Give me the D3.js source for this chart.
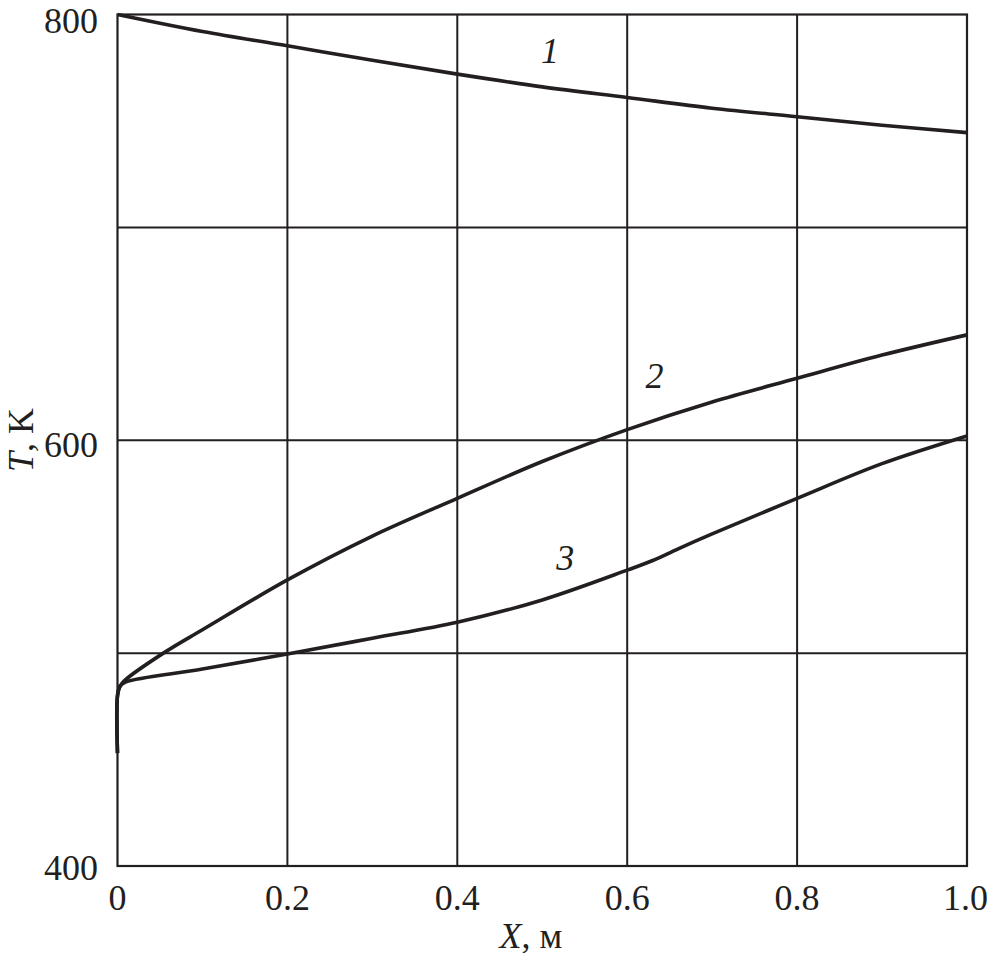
<!DOCTYPE html>
<html><head><meta charset="utf-8">
<script src="https://cdn.jsdelivr.net/npm/d3@7"></script>
<style>body{margin:0;background:#fff}</style>
</head><body>
<svg id="c" width="989" height="960"></svg>
<script>
const xTicks = [0, 0.2, 0.4, 0.6, 0.8, 1.0];
const xTickLabels = ["0", "0.2", "0.4", "0.6", "0.8", "1.0"];
const yTicks = [400, 600, 800];
const yGrid = [500, 600, 700];
const xGrid = [0.2, 0.4, 0.6, 0.8];

const curve1 = [[0,800],[0.1,792],[0.2,785.3],[0.3,778.5],[0.4,772],[0.5,766],[0.6,761],[0.7,756],[0.8,752],[0.9,748],[1.0,744.5]];
const curve2 = [[0,453],[0,480],[0.003,484.5],[0.008,487],[0.054,500],[0.1,511],[0.2,534.4],[0.3,555],[0.4,572.7],[0.5,590],[0.6,605],[0.7,618],[0.8,629.1],[0.9,640],[1.0,649.5]];
const curve3 = [[0,453],[0,480],[0.003,484.5],[0.01,486.5],[0.1,492.5],[0.2,499.6],[0.3,507],[0.4,514.5],[0.5,525],[0.6,539],[0.63,543.5],[0.66,549],[0.7,556],[0.8,572.7],[0.9,589],[1.0,602]];
const labels = [{t:"1",x:0.509,y:777}, {t:"2",x:0.632,y:624.6}, {t:"3",x:0.527,y:539}];

const svg = d3.select("#c");
const W = 989;
const L = 117.5, R = 967, T = 14.5, B = 866;
const x = d3.scaleLinear().domain([0,1]).range([L,R]);
const y = d3.scaleLinear().domain([400,800]).range([B,T]);
const ink = "#231f20";
const font = "'Liberation Serif','DejaVu Serif',serif";
const fs = 36;

svg.append("g").selectAll("line").data(xGrid).join("line")
  .attr("x1",d=>x(d)).attr("x2",d=>x(d)).attr("y1",T).attr("y2",B)
  .attr("stroke",ink).attr("stroke-width",2);
svg.append("g").selectAll("line").data(yGrid).join("line")
  .attr("y1",d=>y(d)).attr("y2",d=>y(d)).attr("x1",L).attr("x2",R)
  .attr("stroke",ink).attr("stroke-width",2);
svg.append("rect").attr("x",L).attr("y",T).attr("width",R-L).attr("height",B-T)
  .attr("fill","none").attr("stroke",ink).attr("stroke-width",2.2);

const line = d3.line().x(d=>x(d[0])).y(d=>y(d[1])).curve(d3.curveCatmullRom.alpha(0.5));
[curve1, curve2, curve3].forEach(c=>{
  svg.append("path").attr("d",line(c)).attr("fill","none").attr("stroke",ink)
    .attr("stroke-width",3.6).attr("stroke-linejoin","round");
});

svg.append("g").selectAll("text").data(labels).join("text")
  .attr("x",d=>x(d.x)).attr("y",d=>y(d.y)).attr("text-anchor","middle")
  .attr("font-family",font).attr("font-style","italic").attr("font-size",fs).attr("fill",ink)
  .text(d=>d.t);

svg.append("g").selectAll("text").data(yTicks).join("text")
  .attr("x",98).attr("y",d=>y(d)+(d===800?18.5:(d===400?14:17))).attr("text-anchor","end")
  .attr("font-family",font).attr("font-size",fs).attr("fill",ink).text(d=>d);

svg.append("g").selectAll("text").data(xTicks).join("text")
  .attr("x",d=>x(d)).attr("y",910).attr("text-anchor","middle")
  .attr("font-family",font).attr("font-size",fs).attr("fill",ink).text((d,i)=>xTickLabels[i])
  .each(function(){
    const b = this.getBBox();
    if (b.x + b.width > W - 1) d3.select(this).attr("x", W - 1 - b.width/2);
  });

const xl = svg.append("text").attr("x",531).attr("y",948).attr("text-anchor","middle")
  .attr("font-family",font).attr("font-size",fs).attr("fill",ink);
xl.append("tspan").attr("font-style","italic").text("X");
xl.append("tspan").text(", м");

const yl = svg.append("text").attr("transform","translate(33,440) rotate(-90)").attr("text-anchor","middle")
  .attr("font-family",font).attr("font-size",fs).attr("fill",ink);
yl.append("tspan").attr("font-style","italic").text("T");
yl.append("tspan").text(", K");
</script>
</body></html>
